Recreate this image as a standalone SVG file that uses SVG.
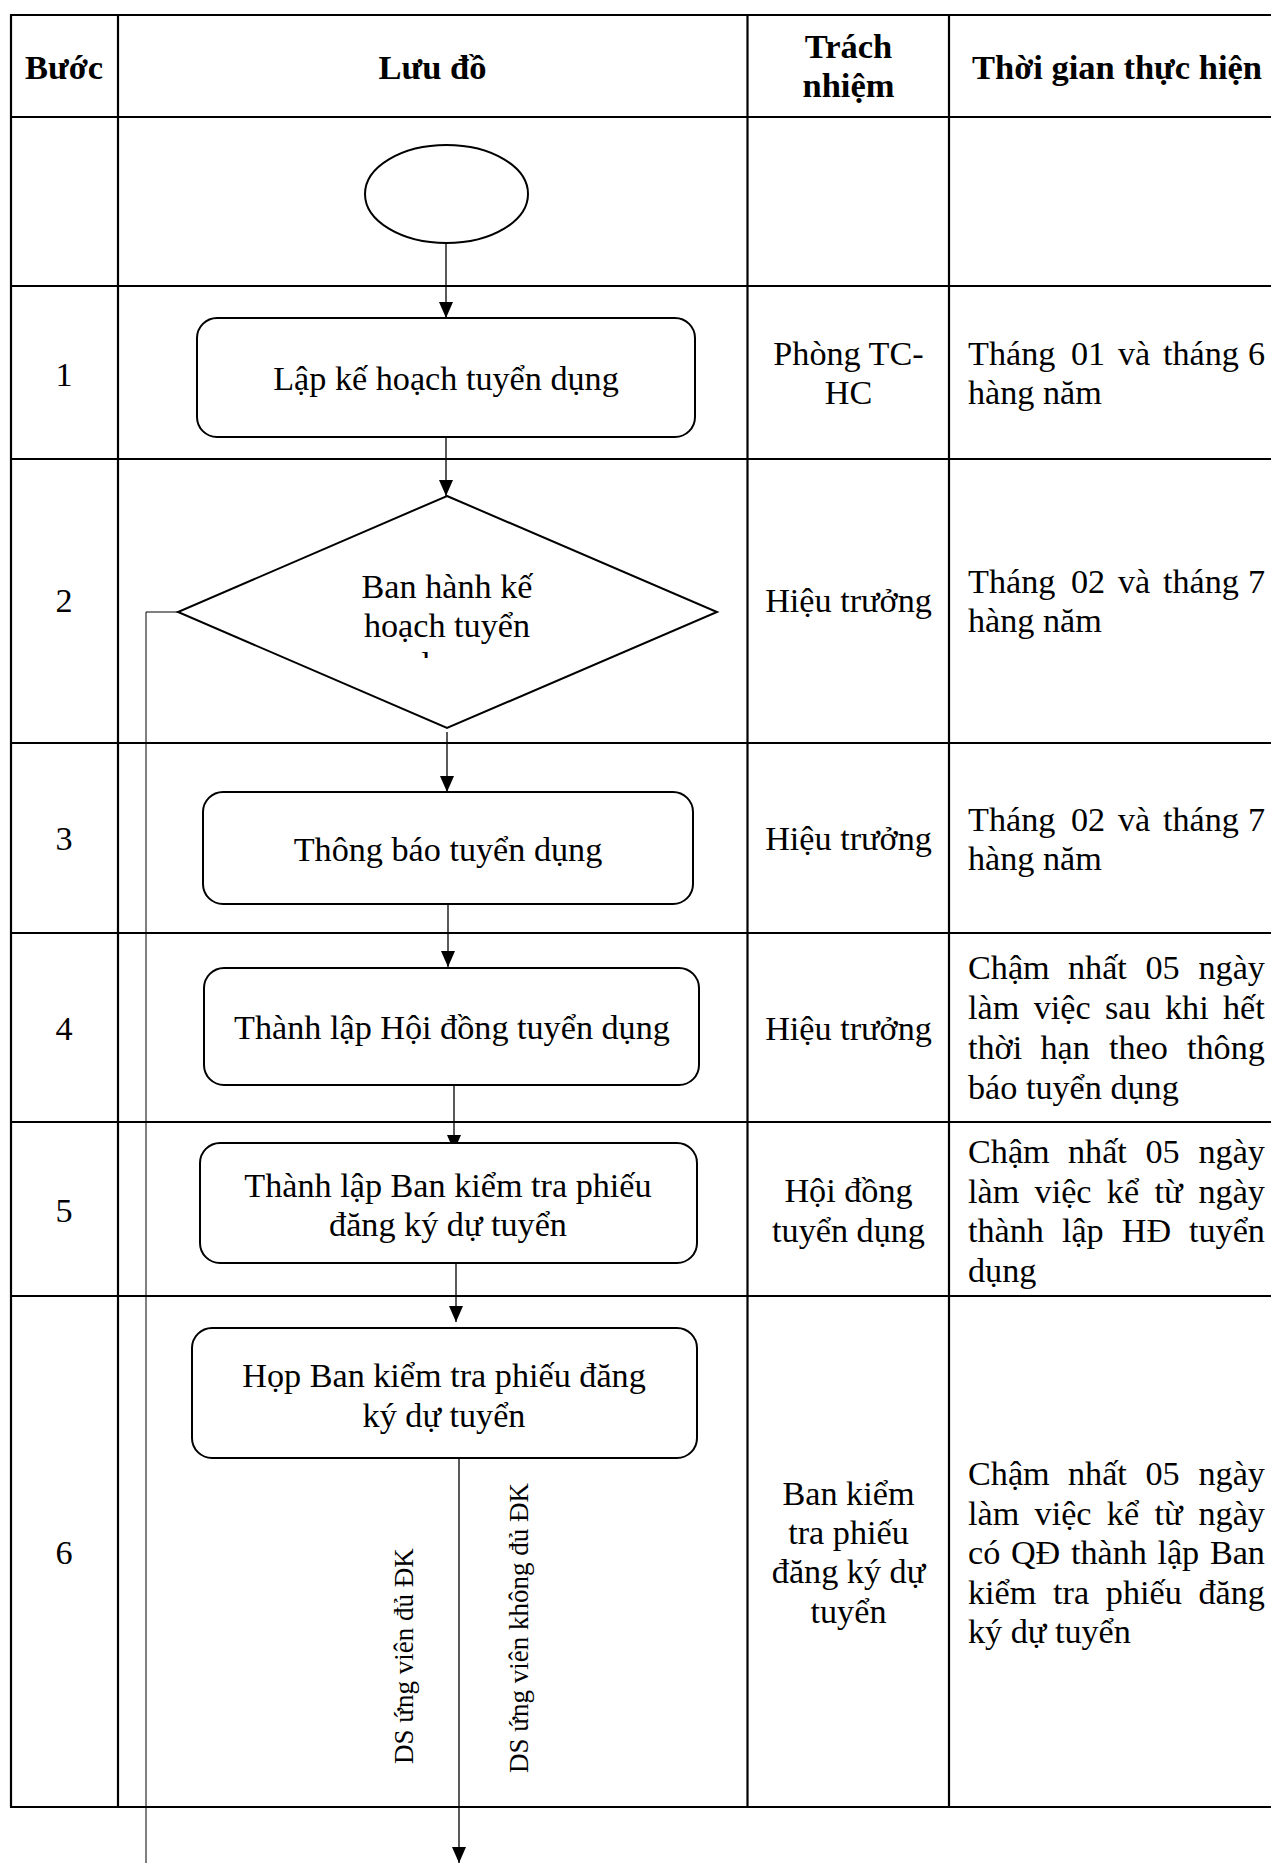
<svg xmlns="http://www.w3.org/2000/svg" width="1271" height="1863" viewBox="0 0 1271 1863">
<style>
.tl{stroke:#000;stroke-width:2.2;fill:none}
.nd{fill:#fff;stroke:#000;stroke-width:2}
.cn{stroke:#000;stroke-width:1.3;fill:none}
.thin{stroke:#000;stroke-width:1;fill:none}
.t{font-family:"Liberation Serif","Times New Roman",serif;font-size:34.2px;fill:#000}
.b{font-weight:bold;font-size:34.5px}
.m{text-anchor:middle}
.r{font-size:27px}
</style>
<defs>
<marker id="ah" markerUnits="userSpaceOnUse" viewBox="0 0 16 14" refX="16" refY="7" markerWidth="16" markerHeight="14" orient="auto">
<path d="M0,0 L16,7 L0,14 z" fill="#000"/>
</marker>
<clipPath id="cd"><rect x="300" y="640" width="300" height="18"/></clipPath>
</defs>
<rect width="1271" height="1863" fill="#fff"/>

<g id="table">
<path class="tl" d="M10,15H1271M10,117H1271M10,286H1271M10,459H1271M10,743H1271M10,933H1271M10,1122H1271M10,1296H1271M10,1807H1271"/>
<path class="tl" d="M11,15V1807M118,15V1807M747.5,15V1807M949,15V1807"/>
<text class="t b m" x="64" y="79">Bước</text>
<text class="t b m" x="432.5" y="79">Lưu đồ</text>
<text class="t b m"><tspan x="848.5" y="58">Trách</tspan><tspan x="848.5" y="97">nhiệm</tspan></text>
<text class="t b m" x="1117" y="79">Thời gian thực hiện</text>

<text class="t m" x="64" y="386">1</text>
<text class="t m" x="64" y="612">2</text>
<text class="t m" x="64" y="850">3</text>
<text class="t m" x="64" y="1040">4</text>
<text class="t m" x="64" y="1222">5</text>
<text class="t m" x="64" y="1564">6</text>

<text class="t m"><tspan x="848.5" y="365">Phòng TC-</tspan><tspan x="848.5" y="404">HC</tspan></text>
<text class="t m" x="848.5" y="612">Hiệu trưởng</text>
<text class="t m" x="848.5" y="850">Hiệu trưởng</text>
<text class="t m" x="848.5" y="1040">Hiệu trưởng</text>
<text class="t m"><tspan x="848.5" y="1202">Hội đồng</tspan><tspan x="848.5" y="1242">tuyển dụng</tspan></text>
<text class="t m"><tspan x="848.5" y="1505">Ban kiểm</tspan><tspan x="848.5" y="1544">tra phiếu</tspan><tspan x="848.5" y="1583">đăng ký dự</tspan><tspan x="848.5" y="1623">tuyển</tspan></text>

<text class="t" y="365"><tspan x="968">Tháng</tspan><tspan x="1071">01</tspan><tspan x="1118">và</tspan><tspan x="1163">tháng</tspan><tspan x="1248">6</tspan></text>
<text class="t" x="968" y="404">hàng năm</text>
<text class="t" y="593"><tspan x="968">Tháng</tspan><tspan x="1071">02</tspan><tspan x="1118">và</tspan><tspan x="1163">tháng</tspan><tspan x="1248">7</tspan></text>
<text class="t" x="968" y="632">hàng năm</text>
<text class="t" y="831"><tspan x="968">Tháng</tspan><tspan x="1071">02</tspan><tspan x="1118">và</tspan><tspan x="1163">tháng</tspan><tspan x="1248">7</tspan></text>
<text class="t" x="968" y="870">hàng năm</text>

<text class="t" y="979"><tspan x="968">Chậm</tspan><tspan x="1068">nhất</tspan><tspan x="1145.5">05</tspan><tspan x="1198.5">ngày</tspan></text>
<text class="t" y="1019"><tspan x="968">làm</tspan><tspan x="1033.7">việc</tspan><tspan x="1105">sau</tspan><tspan x="1165">khi</tspan><tspan x="1223">hết</tspan></text>
<text class="t" y="1059"><tspan x="968">thời</tspan><tspan x="1040.4">hạn</tspan><tspan x="1109">theo</tspan><tspan x="1187">thông</tspan></text>
<text class="t" x="968" y="1099">báo tuyển dụng</text>

<text class="t" y="1163"><tspan x="968">Chậm</tspan><tspan x="1068">nhất</tspan><tspan x="1145.5">05</tspan><tspan x="1198.5">ngày</tspan></text>
<text class="t" y="1202.5"><tspan x="968">làm</tspan><tspan x="1034.6">việc</tspan><tspan x="1106.8">kể</tspan><tspan x="1154.5">từ</tspan><tspan x="1198.5">ngày</tspan></text>
<text class="t" y="1242"><tspan x="968">thành</tspan><tspan x="1061.9">lập</tspan><tspan x="1121.7">HĐ</tspan><tspan x="1189">tuyển</tspan></text>
<text class="t" x="968" y="1281.5">dụng</text>

<text class="t" y="1485"><tspan x="968">Chậm</tspan><tspan x="1068">nhất</tspan><tspan x="1145.5">05</tspan><tspan x="1198.5">ngày</tspan></text>
<text class="t" y="1525"><tspan x="968">làm</tspan><tspan x="1034.6">việc</tspan><tspan x="1106.8">kể</tspan><tspan x="1154.5">từ</tspan><tspan x="1198.5">ngày</tspan></text>
<text class="t" y="1564"><tspan x="968">có</tspan><tspan x="1010.9">QĐ</tspan><tspan x="1070.9">thành</tspan><tspan x="1157.4">lập</tspan><tspan x="1209.9">Ban</tspan></text>
<text class="t" y="1604"><tspan x="968">kiểm</tspan><tspan x="1053">tra</tspan><tspan x="1105.8">phiếu</tspan><tspan x="1198.4">đăng</tspan></text>
<text class="t" x="968" y="1643">ký dự tuyển</text>
</g>

<g id="connectors">
<path class="cn" d="M446,243V318" marker-end="url(#ah)"/>
<path class="cn" d="M446,437V496" marker-end="url(#ah)"/>
<path class="cn" d="M447,732V792" marker-end="url(#ah)"/>
<path class="cn" d="M448,904V967" marker-end="url(#ah)"/>
<path class="cn" d="M454,1085V1151" marker-end="url(#ah)"/>
<path class="cn" d="M456,1263V1322" marker-end="url(#ah)"/>
<path class="cn" d="M459,1458V1863" marker-end="url(#ah)"/>
<path class="thin" d="M178,612H146V1863"/>
<text class="t r" transform="translate(413 1764) rotate(-90)">DS ứng viên đủ ĐK</text>
<text class="t r" transform="translate(528 1773) rotate(-90)">DS ứng viên không đủ ĐK</text>
</g>

<g id="start">
<ellipse class="nd" cx="446.5" cy="194" rx="81.5" ry="49"/>
</g>
<g id="step1">
<rect class="nd" x="197" y="318" width="498" height="119" rx="20"/>
<text class="t m" x="446" y="390">Lập kế hoạch tuyển dụng</text>
</g>
<g id="step2">
<polygon class="nd" points="447,496 717,612 447,728 178,612"/>
<text class="t m"><tspan x="447" y="598">Ban hành kế</tspan><tspan x="447" y="637">hoạch tuyển</tspan></text>
<g clip-path="url(#cd)"><text class="t m" x="447" y="676">dụng</text></g>
</g>
<g id="step3">
<rect class="nd" x="203" y="792" width="490" height="112" rx="20"/>
<text class="t m" x="448" y="861">Thông báo tuyển dụng</text>
</g>
<g id="step4">
<rect class="nd" x="204" y="968" width="495" height="117" rx="20"/>
<text class="t m" x="452" y="1039">Thành lập Hội đồng tuyển dụng</text>
</g>
<g id="step5">
<rect class="nd" x="200" y="1143" width="497" height="120" rx="20"/>
<text class="t m"><tspan x="448" y="1197">Thành lập Ban kiểm tra phiếu</tspan><tspan x="448" y="1236">đăng ký dự tuyển</tspan></text>
</g>
<g id="step6">
<rect class="nd" x="192" y="1328" width="505" height="130" rx="20"/>
<text class="t m"><tspan x="444" y="1387">Họp Ban kiểm tra phiếu đăng</tspan><tspan x="444" y="1426.5">ký dự tuyển</tspan></text>
</g>
</svg>
